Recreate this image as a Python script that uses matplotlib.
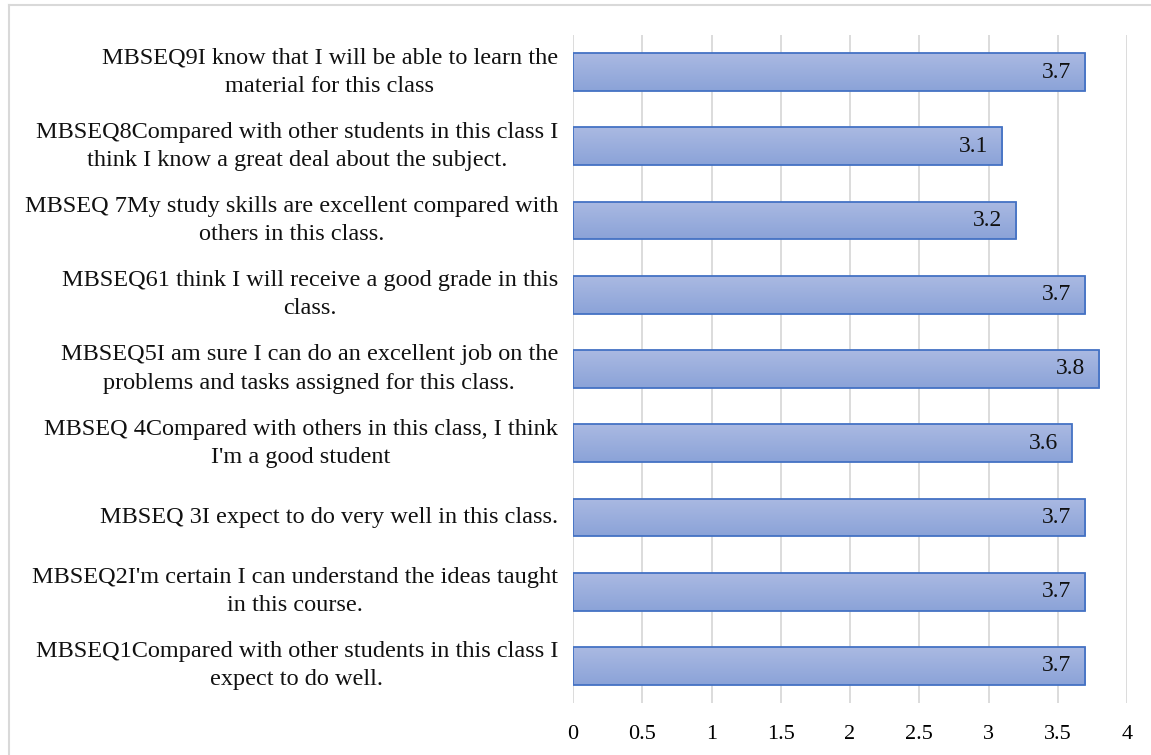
import numpy as np
import matplotlib.pyplot as plt
from matplotlib.colors import LinearSegmentedColormap
from matplotlib.patches import Rectangle

plt.rcParams['font.family'] = ['Liberation Serif', 'DejaVu Serif']

# bottom to top
labels = [
    "MBSEQ1Compared with other students in this class I\nexpect to do well.",
    "MBSEQ2I'm certain I can understand the ideas taught\nin this course.",
    "MBSEQ 3I expect to do very well in this class.",
    "MBSEQ 4Compared with others in this class, I think\nI'm a good student",
    "MBSEQ5I am sure I can do an excellent job on the\nproblems and tasks assigned for this class.",
    "MBSEQ61 think I will receive a good grade in this\nclass.",
    "MBSEQ 7My study skills are excellent compared with\nothers in this class.",
    "MBSEQ8Compared with other students in this class I\nthink I know a great deal about the subject.",
    "MBSEQ9I know that I will be able to learn the\nmaterial for this class",
]
values = [3.7, 3.7, 3.7, 3.6, 3.8, 3.7, 3.2, 3.1, 3.7]
xticks = [0, 0.5, 1, 1.5, 2, 2.5, 3, 3.5, 4]

fig = plt.figure(figsize=(11.51, 7.55), dpi=100)
ax = fig.add_axes([573 / 1151, 52 / 755, 554 / 1151, 668 / 755])

grad = LinearSegmentedColormap.from_list('g', ['#8ba3d8', '#aab9e2'])
y = np.arange(len(values))
h = 0.51
bars = ax.barh(y, values, height=h, color='none', edgecolor='#4472c4', linewidth=1.3, zorder=3)
for b in bars:
    x0, y0 = b.get_x(), b.get_y()
    w, hh = b.get_width(), b.get_height()
    im = ax.imshow(np.linspace(0, 1, 50).reshape(-1, 1), cmap=grad, aspect='auto',
                   extent=(x0, x0 + w, y0, y0 + hh), origin='lower', zorder=2)
    im.set_clip_path(Rectangle((x0, y0), w, hh, transform=ax.transData))

for yi, v in zip(y, values):
    ax.text(v - 0.1, yi, f"{v}", ha='right', va='center', fontsize=17, color='#111111', zorder=4)

ax.set_xlim(0, 4)
ax.set_ylim(-0.5, len(values) - 0.5)
ax.set_xticks(xticks)
ax.set_xticklabels([f"{t:g}" for t in xticks], fontsize=16)
ax.set_yticks([])
ax.grid(axis='x', color='#d9d9d9', linewidth=1.3, zorder=0)
for s in ax.spines.values():
    s.set_visible(False)
ax.tick_params(axis='x', length=0, pad=16)

for yi, lab in zip(y, labels):
    ax.text(-0.027, yi, lab, ha='right', va='center', multialignment='center',
            fontsize=17.5, linespacing=1.45, transform=ax.get_yaxis_transform(), color='#111111')

# outer frame
fig.add_artist(plt.Line2D([9 / 1151, 1], [1 - 5 / 755, 1 - 5 / 755], color='#d9d9d9', linewidth=1.5))
fig.add_artist(plt.Line2D([9 / 1151, 9 / 1151], [0, 1 - 5 / 755], color='#d9d9d9', linewidth=1.5))

fig.savefig('out.png', dpi=100)
